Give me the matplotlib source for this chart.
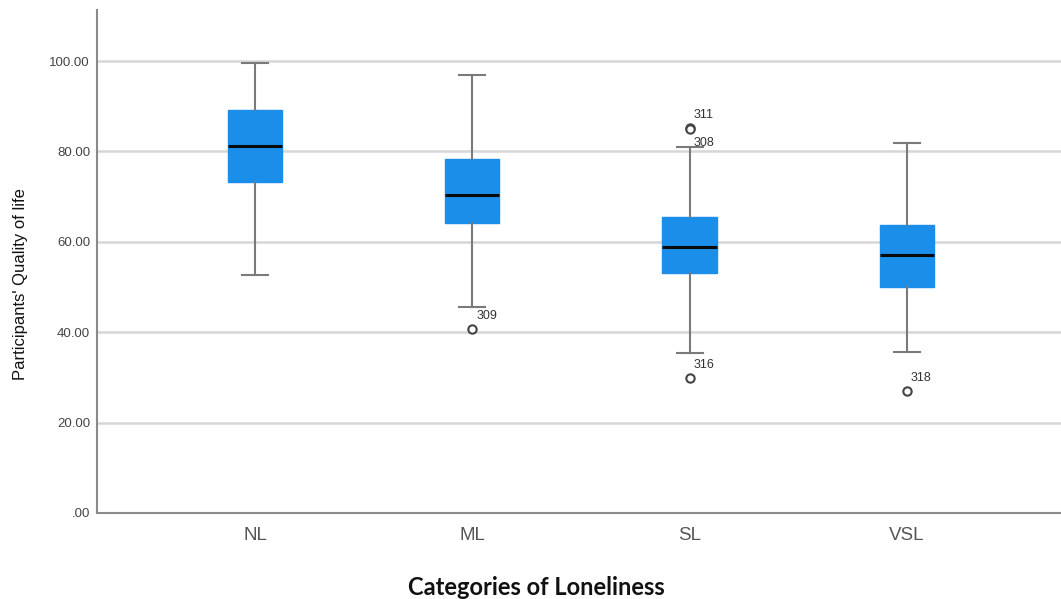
import matplotlib.pyplot as plt

# Quality of life by loneliness category
categories = ['NL', 'ML', 'SL', 'VSL']
whisker_low = [52.7, 45.6, 35.4, 35.6]
q1 = [73.2, 64.2, 53.1, 50.0]
medians = [81.2, 70.4, 58.8, 57.1]
q3 = [89.2, 78.3, 65.5, 63.7]
whisker_high = [99.6, 96.9, 81.0, 81.9]
outliers = [[], [40.7], [85.2, 85.0, 29.9], [27.0]]
outlier_ids = [[], ['309'], ['311', '308', '316'], ['318']]

yticks = [0, 20, 40, 60, 80, 100]
ytick_labels = ['.00', '20.00', '40.00', '60.00', '80.00', '100.00']

stats = []
for i, cat in enumerate(categories):
    stats.append({'label': cat, 'whislo': whisker_low[i], 'q1': q1[i],
                  'med': medians[i], 'q3': q3[i], 'whishi': whisker_high[i],
                  'fliers': outliers[i]})

fig = plt.figure(figsize=(10.61, 5.99), dpi=100)
ax = fig.add_axes([0.0914, 0.1436, 0.9086, 0.8397])

ax.set_axisbelow(True)
ax.yaxis.grid(True, color='#d6d6d6', linewidth=1.8)

positions = list(range(1, len(categories) + 1))
ax.bxp(stats, positions=positions, widths=0.25, capwidths=0.12,
       patch_artist=True,
       boxprops=dict(facecolor='#1a8ee8', edgecolor='#1a8ee8', linewidth=1),
       medianprops=dict(color='#0a0a0a', linewidth=2.2),
       whiskerprops=dict(color='#7a7a7a', linewidth=1.5),
       capprops=dict(color='#7a7a7a', linewidth=1.5),
       flierprops=dict(marker='o', markersize=6, markerfacecolor='white',
                       markeredgecolor='#444444', markeredgewidth=1.5))

# outlier case labels
for i, ids in enumerate(outlier_ids):
    for val, lab in zip(outliers[i], ids):
        dy = -14 if lab == '308' else 13
        ax.annotate(lab, (positions[i], val), xytext=(4, dy),
                    textcoords='offset pixels', fontsize=9, color='#333333',
                    family='Liberation Sans', va='center')

ax.set_xlim(0.272, 4.71)
ax.set_ylim(0, 111.3)
ax.set_yticks(yticks)
ax.set_yticklabels(ytick_labels, fontsize=9.5, color='#444444', family='Liberation Sans')
ax.set_xticks(positions)
ax.set_xticklabels(categories, fontsize=13.5, color='#555555', family='Liberation Sans')
ax.tick_params(length=0, pad=10)
ax.tick_params(axis='y', pad=5)

for side in ['top', 'right']:
    ax.spines[side].set_visible(False)
for side in ['left', 'bottom']:
    ax.spines[side].set_color('#8a8a8a')
    ax.spines[side].set_linewidth(1.5)

ax.set_ylabel("Participants' Quality of life", fontsize=12, family='Liberation Sans',
              color='#111111', labelpad=4)
ax.yaxis.set_label_coords(-0.072, 0.455)
ax.set_xlabel('Categories of Loneliness', fontsize=17, fontweight='bold',
              family='Lato', color='#111111', labelpad=18)
ax.xaxis.set_label_coords(0.456, -0.125)

fig.savefig('out.png', dpi=100)
